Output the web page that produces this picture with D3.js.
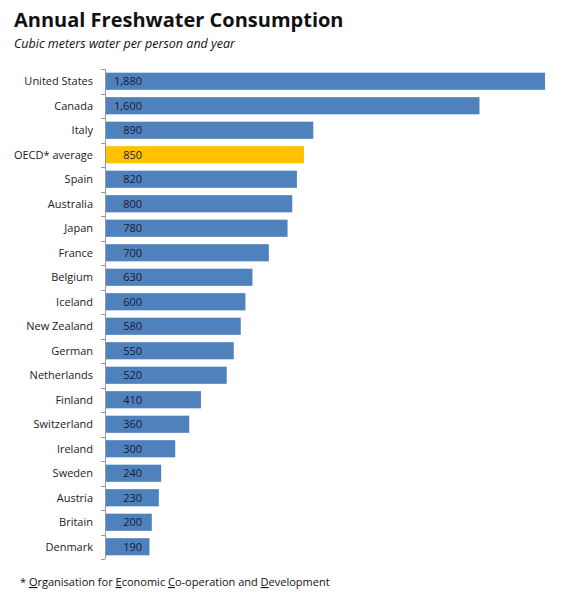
<!DOCTYPE html>
<html><head><meta charset="utf-8">
<script src="https://cdn.jsdelivr.net/npm/d3@7"></script>
<style>body{margin:0;background:#fff;font-family:"Open Sans",sans-serif}</style>
</head><body><div id="chart"></div>
<script>
var countries = ["United States","Canada","Italy","OECD* average","Spain","Australia","Japan","France","Belgium","Iceland","New Zealand","German","Netherlands","Finland","Switzerland","Ireland","Sweden","Austria","Britain","Denmark"];
var values = [1880,1600,890,850,820,800,780,700,630,600,580,550,520,410,360,300,240,230,200,190];
var highlight = "OECD* average";

var width = 571, height = 600;
var svg = d3.select("#chart").append("svg").attr("width", width).attr("height", height);

svg.append("text").attr("x", 14).attr("y", 27).attr("font-size", 20).attr("font-weight", "bold").attr("fill", "#111").text("Annual Freshwater Consumption");
svg.append("text").attr("x", 14).attr("y", 48).attr("font-size", 12.5).attr("font-style", "italic").attr("fill", "#111").text("Cubic meters water per person and year");

var x = d3.scaleLinear().domain([0, 1880]).range([105, 545]);
var y = d3.scaleBand().domain(countries).range([69, 559]).paddingInner(0.3).paddingOuter(0.15);

// axis line and ticks between categories
var step = y.step();
svg.append("line").attr("x1", 105.5).attr("x2", 105.5).attr("y1", 69).attr("y2", 559).attr("stroke", "#999");
d3.range(countries.length + 1).forEach(function(i) {
	var ty = Math.round(69 + i * (490 / countries.length)) + 0.5;
	svg.append("line").attr("x1", 101).attr("x2", 105).attr("y1", ty).attr("y2", ty).attr("stroke", "#999");
});

svg.selectAll(".bar").data(countries).enter().append("rect")
	.attr("x", x(0) + 1)
	.attr("y", function(d) { return y(d); })
	.attr("width", function(d, i) { return x(values[i]) - x(0) - 1; })
	.attr("height", y.bandwidth())
	.attr("fill", function(d) { return d === highlight ? "#ffc000" : "#4f81bd"; });

svg.selectAll(".name").data(countries).enter().append("text")
	.attr("x", 93).attr("y", function(d) { return y(d) + y.bandwidth() / 2; })
	.attr("dy", "0.35em").attr("text-anchor", "end").attr("font-size", 11).attr("fill", "#222")
	.text(function(d) { return d; });

svg.selectAll(".val").data(countries).enter().append("text")
	.attr("x", 142).attr("y", function(d) { return y(d) + y.bandwidth() / 2; })
	.attr("dy", "0.35em").attr("text-anchor", "end").attr("font-size", 11).attr("fill", "#1a1a33")
	.text(function(d, i) { return d3.format(",")(values[i]); });

var foot = svg.append("text").attr("x", 20).attr("y", 586).attr("font-size", 11).attr("fill", "#111");
[["* ",0],["O",1],["rganisation for ",0],["E",1],["conomic ",0],["C",1],["o-operation and ",0],["D",1],["evelopment",0]].forEach(function(p) {
	foot.append("tspan").attr("text-decoration", p[1] ? "underline" : null).text(p[0]);
});
</script></body></html>
